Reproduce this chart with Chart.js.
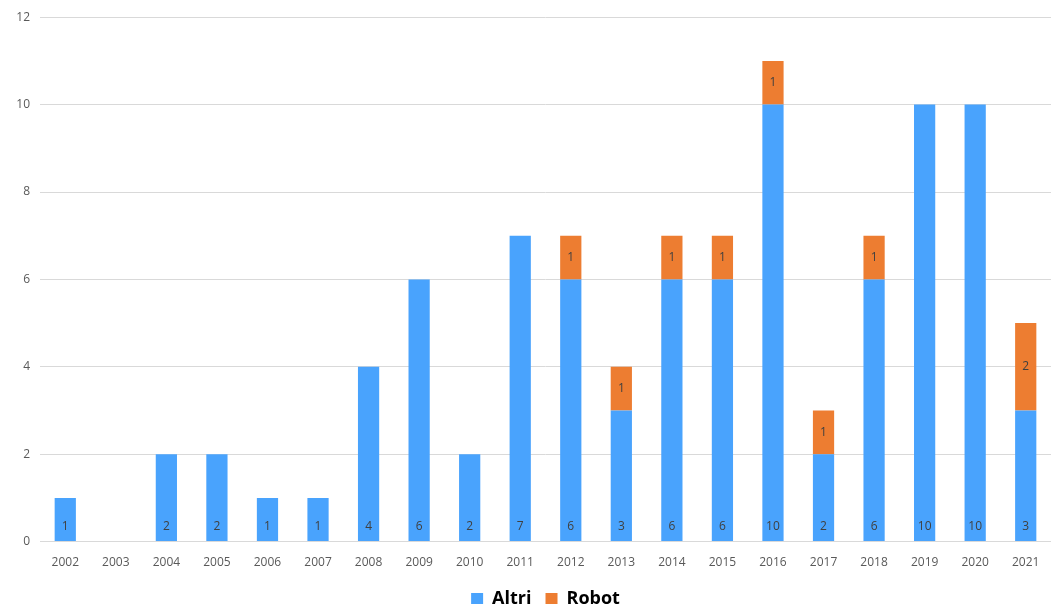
<!DOCTYPE html>
<html>
<head>
<meta charset="utf-8">
<script src="https://cdn.jsdelivr.net/npm/chart.js@4"></script>
<style>
  html, body { margin: 0; padding: 0; background: #fff; overflow: hidden; }
  #wrap { width: 1051px; height: 618px; }
</style>
</head>
<body>
<div id="wrap"><canvas id="chart"></canvas></div>
<script>
const years = ['2002', '2003', '2004', '2005', '2006', '2007', '2008', '2009', '2010', '2011',
               '2012', '2013', '2014', '2015', '2016', '2017', '2018', '2019', '2020', '2021'];
const altri = [1, null, 2, 2, 1, 1, 4, 6, 2, 7, 6, 3, 6, 6, 10, 2, 6, 10, 10, 3];
const robot = [null, null, null, null, null, null, null, null, null, null, 1, 1, 1, 1, 1, 1, 1, null, null, 2];
const yTicks = [0, 2, 4, 6, 8, 10, 12];

// value labels: Altri sits at the bottom of its bar, Robot in the middle
const barLabels = {
    id: 'barLabels',
    afterDatasetsDraw(chart) {
        const ctx = chart.ctx;
        ctx.save();
        ctx.font = '12px "Open Sans"';
        ctx.fillStyle = '#404040';
        ctx.textAlign = 'center';
        ctx.textBaseline = 'middle';
        chart.data.datasets.forEach((ds, i) => {
            const meta = chart.getDatasetMeta(i);
            meta.data.forEach((bar, j) => {
                const v = ds.data[j];
                if (v == null) return;
                const y = i === 0 ? bar.base - 15 : (bar.y + bar.base) / 2;
                ctx.fillText(String(v), bar.x, y);
            });
        });
        ctx.restore();
    }
};

new Chart(document.getElementById('chart'), {
    type: 'bar',
    data: {
        labels: years,
        datasets: [
            { label: 'Altri', data: altri, backgroundColor: '#49A3FD', borderWidth: 0 },
            { label: 'Robot', data: robot, backgroundColor: '#ED7D31', borderWidth: 0 }
        ]
    },
    options: {
        responsive: true,
        maintainAspectRatio: false,
        animation: false,
        categoryPercentage: 1,
        barPercentage: 0.42,
        layout: { padding: { top: 14, right: 0, left: 0, bottom: 0 } },
        plugins: {
            tooltip: { enabled: false },
            legend: {
                position: 'bottom',
                fullSize: false,
                labels: {
                    boxWidth: 12,
                    boxHeight: 12,
                    padding: 14,
                    color: '#000',
                    font: { family: '"Open Sans"', size: 18, weight: 'bold' }
                }
            }
        },
        scales: {
            x: {
                stacked: true,
                grid: { display: false },
                border: { color: '#D9D9D9' },
                ticks: { color: '#595959', font: { family: '"Open Sans"', size: 12 }, padding: 6 }
            },
            y: {
                stacked: true,
                min: 0,
                max: 12,
                afterFit: s => { s.width = 40; },
                afterBuildTicks: s => { s.ticks = yTicks.map(v => ({ value: v })); },
                grid: { color: '#D9D9D9', drawTicks: false },
                border: { display: false },
                ticks: { color: '#595959', font: { family: '"Open Sans"', size: 12 }, padding: 10 }
            }
        }
    },
    plugins: [barLabels]
});
</script>
</body>
</html>
